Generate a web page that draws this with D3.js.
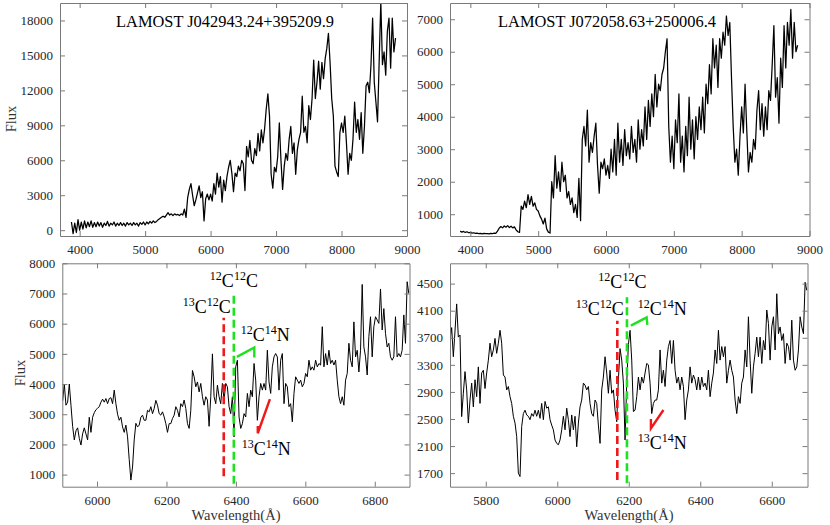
<!DOCTYPE html>
<html lang="en">
<head>
<meta charset="UTF-8">
<title>LAMOST carbon star spectra</title>
<script src="https://d3js.org/d3.v7.min.js"></script>
<style>
    body{ margin:0; background:#fff; }
    svg text{ font-family:"Liberation Serif","Tinos","Times New Roman","Nimbus Roman","DejaVu Serif",serif !important; }
    .axis path, .axis line{ stroke:#7a7a7a; stroke-width:1px; }
    .axis text{ font-size:13px; fill:#262626; }
    .spec{ fill:none; stroke:#000; stroke-linejoin:round; }
    .ylab, .xlab{ font-size:14.5px; fill:#333; }
    .title{ font-size:16.4px; fill:#000; }
    .mol{ fill:#000; }
    .red{ stroke:#f01818; }
    .green{ stroke:#1fe21f; }
</style>
</head>
<body>
<svg id="canvas" width="830" height="525"></svg>
<script>
// ---- data ----
// top left: LAMOST J042943.24+395209.9, 25 A grid 3875..8825
let tlRange = [3875, 8825]
let tlFlux = [
    700,-300,600,-200,900,
    0,700,100,800, 200,700,300,800, 250,650,300,700, 350,650,250,600,
    400,750,350,600, 450,700,350,600, 400,650,400,600, 350,650,450,600,
    400,650,450,600, 350,650,500,700, 450,700,550,750, 600,800,650,750,
    900,1000,1100,1200, 1100,1300,1500,1300, 1400,1250,1400,1300, 1350,1250,1400,1300,
    1800,1100,2800,3500, 4000,3000,2100,2600, 3200,3800,2800,3300, 800,2700,3100,2600,
    3100,2500,4000,3100, 4900,3700,4600,2400, 4300,3400,4600,5400, 6000,4900,3300,4900,
    4600,5500,5100,6000, 5700,3400,7200,6300, 7700,6000,5700,7000, 6400,8300,6800,8600,
    7500,8700,10400,11700, 9800,4800,3600,5400, 5000,6300,9200,6000, 3500,5500,6600,6000,
    7800,8900,6600,7500, 4800,6900,7800,8400, 11500,8400,8900,7500, 10700,9500,11300,14600,
    11300,12700,14500,12100, 14400,13000,14700,15600, 16900,14400,11300,9800, 5500,5000,4600,8400,
    9200,8400,9800,7500, 4800,6600,6000,7800, 11000,8400,9500,7800, 10100,6600,8900,12400,
    12700,11800,14200,18200, 12700,11000,9300,14500, 19600,14200,15300,13300, 17100,18200,13900,18200,
    15300,16500
]
let tlXTicks = [4000, 5000, 6000, 7000, 8000, 9000]
let tlYTicks = [0, 3000, 6000, 9000, 12000, 15000, 18000]

// top right: LAMOST J072058.63+250006.4, 25 A grid 3850..8825
let trRange = [3850, 8825]
let trFlux = [
    480,450,470,440,460,430,
    440,420,430,410, 420,400,410,395, 410,400,405,395, 410,400,420,410,
    480,570,620,580, 640,600,650,590, 630,580,610,520, 460,440,1250,1150,
    1400,1200,1600,1300, 1550,1250,1350,1150, 1100,950,850,700, 880,550,450,420,
    2000,1500,2800,1800, 2300,1700,2600,2000, 2200,1500,1700,1300, 1500,1050,1300,900,
    2100,800,3300,3700, 3100,4200,2600,3200, 2900,3400,3800,2500, 1650,2600,2400,2700,
    2200,2500,2100,3000, 2300,3300,2200,3800, 2600,3300,2500,3600, 2800,3200,2700,3700,
    2900,3300,2600,3900, 3000,3600,3100,4300, 3300,4500,3700,4700, 4000,5300,4300,5000,
    4800,5300,5500,6000, 6400,3700,2600,3400, 2400,3900,3200,4700, 2600,3400,2300,3700,
    2800,4600,3000,3900, 2700,4000,3300,4300, 3600,4600,3500,5000, 4400,5600,4700,6400,
    5500,6200,4900,6400, 5800,6600,6200,7100, 6500,6900,5200,3700, 2600,3000,2200,3400,
    4300,3500,5000,3600, 2300,2900,2600,3300, 3000,4200,4800,3600, 4400,3400,4300,3600,
    4800,4500,5600,6800, 4600,5200,3800,5800, 4900,6800,5500,6900, 6200,7300,5800,6900,
    6000,6200
]
let trXTicks = [4000, 5000, 6000, 7000, 8000, 9000]
let trYTicks = [1000, 2000, 3000, 4000, 5000, 6000, 7000]

// bottom left: zoom of J042943, even grid 5901..6898
let blRange = [5901, 6898]
let blFlux = [
    3450,4000,3300,3400,4000,3300,2600,2150,2450,2550,
    2200,1980,2350,2550,2350,2150,2900,2400,2900,3050,
    3150,3200,3250,3400,3500,3400,3520,3350,3520,3550,
    3350,3800,3350,3000,2800,2900,2580,2400,2640,2250,
    1500,820,1250,2150,2700,2580,2640,2900,2970,2800,
    2800,3130,3080,3250,3020,3190,3460,3300,3020,2970,
    3080,2910,2690,2400,2690,2690,2860,2970,3250,3130,
    2910,3350,3250,3470,3190,2690,2530,3130,4450,4240,
    3910,4070,3740,4020,3580,3300,3580,3470,2600,3580,
    5000,3580,3350,3960,3580,3350,4020,3460,4020,3910,
    3250,3020,3580,2250,4570,4790,2910,2530,2690,3020,
    2910,3690,3250,3800,3580,4680,4130,2800,3580,4020,
    3800,4020,3800,5120,4070,3690,4570,4900,5010,4900,
    3800,4790,5010,3350,4020,3910,3250,3350,2750,3690,
    4240,4130,4020,4130,3910,4020,4350,4240,4790,4460,
    4570,4460,4790,4570,4680,4630,5900,4570,5010,4630,
    5120,4680,4790,4630,4790,4130,3580,3350,3580,3300,
    4130,4350,5350,4790,4570,6060,4900,5120,4400,5120,
    7300,5230,4900,4300,5570,6230,4900,5900,6230,6120,
    6010,7150,5790,6500,5680,5230,5350,4900,4790,4900,
    6230,4900,5010,4900,5120,6290,5350,7390,7000
]
let blXTicks = [6000, 6200, 6400, 6600, 6800]
let blYTicks = [1000, 2000, 3000, 4000, 5000, 6000, 7000, 8000]

// bottom right: zoom of J072058, even grid 5700..6698
let brRange = [5700, 6698]
let brFlux = [
    3660,3850,3420,3800,4200,3710,3740,
    2535,2880,3200,2930,2440,2780,3030,2680,3080,2830,
    3270,2730,3180,3220,2950,3180,3370,3620,3420,3520,
    3690,3470,3620,3810,3620,3150,3120,2930,2980,2830,
    2730,2540,2440,2240,1700,1650,2390,2580,2630,2560,
    2540,2490,2580,2540,2630,2540,2630,2510,2730,2490,
    2760,2660,2680,2490,2410,2340,2190,2140,2120,2190,
    2340,2540,2340,2660,2490,2240,2560,2340,2540,2090,
    2440,2680,2780,3030,3000,2930,2980,2730,2580,2540,
    2780,2730,2410,2140,2930,3120,3420,3180,2880,3220,
    2880,2930,2630,2460,3080,3540,3370,3030,2190,3030,
    3600,3810,3370,2610,2630,2830,3120,2930,3120,3030,
    3180,3320,3300,3030,2580,2730,2780,2780,2930,3520,
    3030,3220,2980,3370,3570,3660,3320,3660,3220,3030,
    3120,2930,3120,2980,2490,2780,2930,3270,3030,3150,
    3080,2930,3120,2930,3120,2980,3030,2930,3220,2830,
    3030,3180,3520,3320,3810,3370,3570,3420,3570,3030,
    3220,3370,3220,3120,2780,2580,2830,2730,3030,3120,
    3520,3270,4010,3370,2880,3270,3470,3710,3420,3710,
    3320,3660,3520,4110,3910,3370,3860,4010,3520,4350,
    3760,3860,3660,3760,3320,3620,3570,3370,3960,3370,
    3220,3270,3520,4010,3860,3760,4520,4400
]
let brXTicks = [5800, 6000, 6200, 6400, 6600]
let brYTicks = [1700, 2100, 2500, 2900, 3300, 3700, 4100, 4500]

// molecular band marks (wavelength, flux)
let blRedDash = [[6365, 950], [6365, 6200]]
let blGreenDash = [[6394, 700], [6394, 7000]]
let blGreenHook = [[6403, 4900], [6453, 5210], [6453, 4880]]
let blRedHook = [[6498, 3500], [6463, 2370], [6463, 2610]]
let brRedDash = [[6168, 1600], [6168, 3950]]
let brGreenDash = [[6195, 1550], [6195, 4300]]
let brGreenHook = [[6206, 3880], [6250, 4000], [6252, 3890]]
let brRedHook = [[6297, 2633], [6262, 2362], [6262, 2500]]

// labels: isotopes and anchor (wavelength, flux)
let molC12C12 = [["12", "C"], ["12", "C"]]
let molC13C12 = [["13", "C"], ["12", "C"]]
let molC12N14 = [["12", "C"], ["14", "N"]]
let molC13N14 = [["13", "C"], ["14", "N"]]
let blMolAt = [[6325, 7200], [6247, 6350], [6414, 5440], [6417, 1650]]
let brMolAt = [[6115, 4440], [6052, 4036], [6225, 4036], [6225, 2052]]
let molNames = [molC12C12, molC13C12, molC12N14, molC13N14]

function grid(range, n){
    return d3.range(n).map(i => range[0] + i*(range[1]-range[0])/(n-1))
}

let svg = d3.select('#canvas')
let fmt = d3.format('d')

let panels = [
    {id:'tl', wave:grid(tlRange, tlFlux.length), flux:tlFlux, xDom:[3700, 9000], yDom:[-500, 19500], lw:1.25,
        xt:tlXTicks, yt:tlYTicks, box:[60, 407, 3, 236], title:'LAMOST J042943.24+395209.9', titleAt:[225, 27], ylab:[16, 119]},
    {id:'tr', wave:grid(trRange, trFlux.length), flux:trFlux, xDom:[3700, 9000], yDom:[330, 7500], lw:1.25,
        xt:trXTicks, yt:trYTicks, box:[450, 809.5, 3, 236], title:'LAMOST J072058.63+250006.4', titleAt:[607, 27]},
    {id:'bl', wave:grid(blRange, blFlux.length), flux:blFlux, xDom:[5900, 6900], yDom:[600, 8000], lw:1,
        xt:blXTicks, yt:blYTicks, box:[62.3, 409.5, 263.3, 486.7], ylab:[24.5, 373], xlab:[236, 520],
        red:blRedDash, green:blGreenDash, gHook:blGreenHook, rHook:blRedHook, molAt:blMolAt},
    {id:'br', wave:grid(brRange, brFlux.length), flux:brFlux, xDom:[5700, 6700], yDom:[1500, 4800], lw:1,
        xt:brXTicks, yt:brYTicks, box:[450, 807.5, 263.3, 486.7], xlab:[629, 520],
        red:brRedDash, green:brGreenDash, gHook:brGreenHook, rHook:brRedHook, molAt:brMolAt}
]

panels.forEach(drawPanel)

function drawPanel(p){
    let [x0, x1, y0, y1] = p.box
    let x = d3.scaleLinear().domain(p.xDom).range([x0, x1])
    let y = d3.scaleLinear().domain(p.yDom).range([y1, y0])
    let g = svg.append('g')

    g.append('clipPath').attr('id', 'clip_' + p.id)
        .append('rect').attr('x', x0).attr('y', y0).attr('width', x1 - x0).attr('height', y1 - y0)

    let line = d3.line().x(d => x(d[0])).y(d => y(d[1]))
    g.append('path')
        .datum(d3.zip(p.wave, p.flux))
        .attr('class', 'spec')
        .attr('stroke-width', p.lw)
        .attr('clip-path', `url(#clip_${p.id})`)
        .attr('d', line)

    // box with inward ticks on all four sides
    g.append('g').attr('class', 'axis').attr('transform', `translate(0,${y1})`)
        .call(d3.axisBottom(x).tickValues(p.xt).tickSizeInner(-5).tickSizeOuter(0).tickPadding(9).tickFormat(fmt))
    g.append('g').attr('class', 'axis').attr('transform', `translate(0,${y0})`)
        .call(d3.axisTop(x).tickValues(p.xt).tickSizeInner(-5).tickSizeOuter(0).tickFormat(''))
    g.append('g').attr('class', 'axis').attr('transform', `translate(${x0},0)`)
        .call(d3.axisLeft(y).tickValues(p.yt).tickSizeInner(-5).tickSizeOuter(0).tickPadding(7).tickFormat(fmt))
    g.append('g').attr('class', 'axis').attr('transform', `translate(${x1},0)`)
        .call(d3.axisRight(y).tickValues(p.yt).tickSizeInner(-5).tickSizeOuter(0).tickFormat(''))
    g.selectAll('.axis').attr('font-family', null)

    if (p.title){
        g.append('text').attr('class', 'title')
            .attr('x', p.titleAt[0]).attr('y', p.titleAt[1])
            .attr('text-anchor', 'middle').text(p.title)
    }
    if (p.ylab){
        g.append('text').attr('class', 'ylab')
            .attr('transform', `translate(${p.ylab[0]},${p.ylab[1]}) rotate(-90)`)
            .attr('text-anchor', 'middle').text('Flux')
    }
    if (p.xlab){
        g.append('text').attr('class', 'xlab')
            .attr('x', p.xlab[0]).attr('y', p.xlab[1])
            .attr('text-anchor', 'middle').text('Wavelength(\u00C5)')
    }
    if (p.red){
        let seg = d3.line().x(d => x(d[0])).y(d => y(d[1]))
        g.append('path').attr('class', 'red').attr('d', seg(p.red))
            .attr('fill', 'none').attr('stroke-width', 2.6).attr('stroke-dasharray', '8,4')
        g.append('path').attr('class', 'green').attr('d', seg(p.green))
            .attr('fill', 'none').attr('stroke-width', 2.6).attr('stroke-dasharray', '8,4')
        g.append('path').attr('class', 'green').attr('d', seg(p.gHook))
            .attr('fill', 'none').attr('stroke-width', 2.4)
        g.append('path').attr('class', 'red').attr('d', seg(p.rHook))
            .attr('fill', 'none').attr('stroke-width', 2.4)

        p.molAt.forEach((a, i) => {
            let t = g.append('text').attr('class', 'mol')
                .attr('x', x(a[0])).attr('y', y(a[1]))
            molNames[i].forEach(part => {
                t.append('tspan').attr('font-size', 12).attr('dy', -7).text(part[0])
                t.append('tspan').attr('font-size', 18).attr('dy', 7).text(part[1])
            })
        })
    }
}
</script>
</body>
</html>
